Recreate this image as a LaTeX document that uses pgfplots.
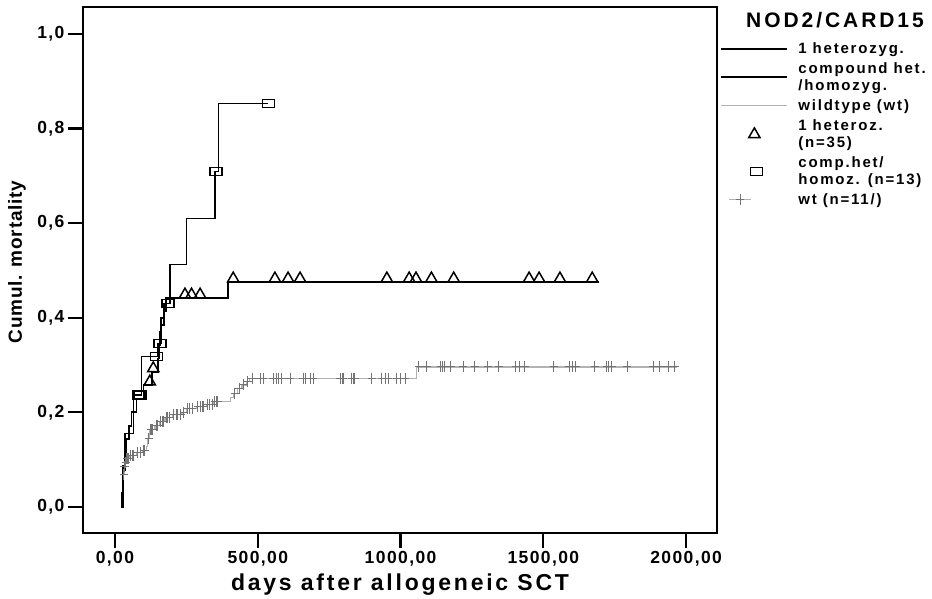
\documentclass[border=0pt]{standalone}
\usepackage{fontspec}
\setmainfont{Liberation Sans}
\newfontfamily\tickfont{Liberation Sans}[LetterSpace=8]
\newfontfamily\labfont{Liberation Sans}[LetterSpace=12]
\newfontfamily\ylabfont{Liberation Sans}[LetterSpace=4]
\newfontfamily\legfont{Liberation Sans}[LetterSpace=12]
\newfontfamily\titfont{Liberation Sans}[LetterSpace=14]
\usepackage{pgfplots}
\pgfplotsset{compat=1.18}
\begin{document}
\begin{tikzpicture}
\path[use as bounding box] (-83pt,-66pt) rectangle (849pt,533pt);
\begin{axis}[
  scale only axis, width=634pt, height=526pt,
  xmin=-112, xmax=2108, ymin=-0.055, ymax=1.057,
  separate axis lines,
  axis line style={line width=2.8pt, line cap=rect},
  tick align=outside, major tick length=15pt,
  xtick pos=bottom, ytick pos=left,
  tick style={line width=2.2pt, black},
  xtick={0,500,1000,1500,2000},
  xticklabels={{0,00},{500,00},{1000,00},{1500,00},{2000,00}},
  ytick={0,0.2,0.4,0.6,0.8,1.0},
  yticklabels={{0,0},{0,2},{0,4},{0,6},{0,8},{1,0}},
  ticklabel style={font=\tickfont\bfseries\fontsize{17.5}{19}\selectfont},
  xlabel={days after allogeneic SCT},
  ylabel={Cumul. mortality},
  xlabel style={font=\labfont\bfseries\fontsize{23}{26}\selectfont, at={(axis description cs:0.5,-0.0989)}, anchor=center},
  ylabel style={font=\ylabfont\bfseries\fontsize{19}{21}\selectfont, at={(axis description cs:-0.1043,0.515)}, anchor=center},
  legend style={draw=none, fill=none, at={(axis description cs:1.005,0.937)}, anchor=north west,
    font=\legfont\bfseries\fontsize{15}{16.5}\selectfont, inner sep=0pt, row sep=4pt,
    cells={align=left},
    /tikz/every odd column/.append style={column sep=8pt}},
  legend cell align=left,
]
% wildtype (gray)
\addplot[const plot, gray!60, line width=1.2pt, forget plot] coordinates {
(22,0) (24,0.017) (25,0.034) (27,0.051) (29,0.068) (32,0.085) (36,0.094) (40,0.103)
(50,0.109) (75,0.115) (95,0.120) (110,0.128) (115,0.145) (120,0.163) (140,0.172)
(155,0.181) (175,0.190) (200,0.195) (235,0.200) (250,0.209) (285,0.213) (320,0.217)
(345,0.223) (405,0.231) (415,0.240) (430,0.250) (445,0.258) (460,0.266) (470,0.272)
(1057,0.296) (1968,0.296)};
\addplot[only marks, mark=+, mark size=5pt, black!55, line width=1pt, mark options={yscale=1.1, xscale=0.8}, forget plot] coordinates {
(30,0.068) (33,0.085) (35,0.085) (38,0.094) (42,0.103) (45,0.103) (48,0.103) (55,0.109)
(60,0.109) (65,0.109) (80,0.115) (90,0.115) (100,0.120) (105,0.120) (118,0.145)
(125,0.163) (128,0.163) (132,0.163) (145,0.172) (150,0.172) (160,0.181) (165,0.181)
(170,0.181) (180,0.190) (185,0.190) (190,0.190) (205,0.195) (215,0.195) (220,0.195)
(230,0.195) (240,0.200) (255,0.209) (260,0.209) (270,0.209) (290,0.213) (300,0.213)
(305,0.213) (310,0.213) (325,0.217) (330,0.217) (340,0.217) (350,0.223) (355,0.223)
(360,0.223) (420,0.240) (435,0.250) (450,0.258) (465,0.266)
(480,0.272) (508,0.272) (519,0.272) (555,0.272) (565,0.272) (572,0.272) (584,0.272)
(613,0.272) (659,0.272) (668,0.272) (683,0.272) (694,0.272) (788,0.272) (795,0.272)
(799,0.272) (829,0.272) (834,0.272) (840,0.272) (899,0.272) (934,0.272) (946,0.272)
(957,0.272) (987,0.272) (1000,0.272) (1016,0.272)
(1063,0.296) (1092,0.296) (1140,0.296) (1147,0.296) (1153,0.296) (1176,0.296)
(1219,0.296) (1260,0.296) (1306,0.296) (1344,0.296) (1404,0.296) (1417,0.296)
(1434,0.296) (1536,0.296) (1590,0.296) (1602,0.296) (1614,0.296) (1680,0.296)
(1722,0.296) (1728,0.296) (1740,0.296) (1794,0.296) (1884,0.296) (1908,0.296)
(1938,0.296) (1960,0.296)};
% compound het / homozyg
\addplot[const plot, black, line width=1.3pt, forget plot] coordinates {
(22,0) (30,0.077) (35,0.156) (64,0.237) (93,0.318) (150,0.346) (163,0.385)
(172,0.430) (193,0.512) (251,0.610) (350,0.709) (362,0.853) (537,0.853)};
\addplot[only marks, mark=square, mark size=4pt, black, line width=1.3pt, mark options={xscale=1.5}, forget plot] coordinates {
(82,0.237) (88,0.237) (146,0.318) (158,0.346) (186,0.430) (354,0.709) (537,0.853)};
% 1 heterozygous
\addplot[const plot, black, line width=1.8pt, forget plot] coordinates {
(22,0) (25,0.029) (27,0.057) (29,0.086) (33,0.114) (40,0.143) (50,0.171) (58,0.200)
(75,0.229) (100,0.258) (130,0.286) (150,0.314) (154,0.343) (158,0.371) (162,0.400)
(170,0.414) (178,0.442) (397,0.476) (1695,0.476)};
\addplot[only marks, mark=triangle, mark size=6.5pt, black, line width=1.5pt, mark options={yshift=3.2pt}, forget plot] coordinates {
(122,0.258) (134,0.286) (245,0.442) (268,0.442) (298,0.442) (414,0.476) (560,0.476)
(606,0.476) (648,0.476) (952,0.476) (1030,0.476) (1054,0.476) (1108,0.476)
(1186,0.476) (1450,0.476) (1485,0.476) (1558,0.476) (1671,0.476)};
% legend
\addlegendimage{legend image code/.code={\draw[black,line width=2pt] (0pt,0pt) -- (66pt,0pt);}}
\addlegendentry{1 heterozyg.}
\addlegendimage{legend image code/.code={\draw[black,line width=1.3pt] (0pt,0pt) -- (66pt,0pt);}}
\addlegendentry{compound het.\\/homozyg.}
\addlegendimage{legend image code/.code={\draw[gray!60,line width=1.2pt] (0pt,0pt) -- (66pt,0pt);}}
\addlegendentry{wildtype (wt)}
\addlegendimage{legend image code/.code={\draw[black,line width=1.5pt,mark=triangle,mark size=6.5pt] plot coordinates {(33pt,0pt)};}}
\addlegendentry{1 heteroz.\\(n=35)}
\addlegendimage{legend image code/.code={\draw[black,line width=1.3pt,mark=square,mark size=4pt,mark options={xscale=1.5}] plot coordinates {(35pt,0pt)};}}
\addlegendentry{comp.het/\\homoz. (n=13)}
\addlegendimage{legend image code/.code={\draw[gray!60,line width=1pt] (8pt,0pt) -- (30pt,0pt); \draw[black!55,line width=1pt,mark=+,mark size=5pt,mark options={yscale=1.1,xscale=0.8}] plot coordinates {(19pt,0pt)};}}
\addlegendentry{wt (n=11/)}
\end{axis}
\node[font=\titfont\bfseries\fontsize{21}{24}\selectfont, anchor=center] at (752pt,513pt) {NOD2/CARD15};
\end{tikzpicture}
\end{document}
